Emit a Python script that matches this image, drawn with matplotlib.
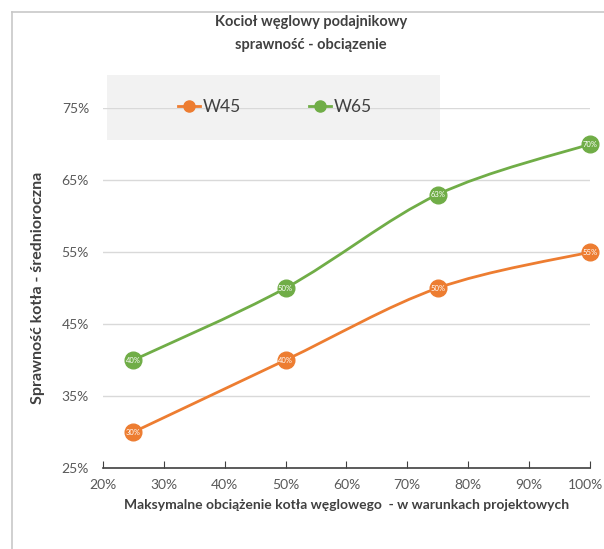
import numpy as np
import matplotlib.pyplot as plt
import matplotlib.transforms as mtransforms
from matplotlib.path import Path
from matplotlib.patches import PathPatch, Rectangle
from matplotlib.lines import Line2D

plt.rcParams['font.family'] = ['Lato', 'DejaVu Sans']

load = [25, 50, 75, 100]
w45 = [30, 40, 50, 55]
w65 = [40, 50, 63, 70]
names = ["W45", "W65"]
colors = ["#ED7D31", "#70AD47"]
xticks = [20, 30, 40, 50, 60, 70, 80, 90, 100]
yticks = [25, 35, 45, 55, 65, 75]


def smooth_path(xs, ys):
    # bezier segments like the smoothed lines in a spreadsheet chart
    p = np.column_stack([xs, ys]).astype(float)
    ext = np.vstack([p[0], p, p[-1]])
    verts = [p[0]]
    codes = [Path.MOVETO]
    for i in range(len(p) - 1):
        a, b, c, d = ext[i], ext[i + 1], ext[i + 2], ext[i + 3]
        verts += [b + (c - a) / 6, c - (d - b) / 6, c]
        codes += [Path.CURVE4] * 3
    return Path(verts, codes)


fig = plt.figure(figsize=(6.04, 5.49), dpi=100)
ax = fig.add_axes([0.1705, 0.1475, 0.806, 0.6555])
ax.set_facecolor('none')

# frame lines of the chart area
fig.add_artist(Line2D([12 / 604, 12 / 604], [0, 1 - 12 / 549], color='#C8C8C8', lw=1.2))
fig.add_artist(Line2D([12 / 604, 1], [1 - 12 / 549, 1 - 12 / 549], color='#C8C8C8', lw=1.2))

# legend background
fig.add_artist(Rectangle((107 / 604, 1 - 140 / 549), 333 / 604, 65 / 549,
                         transform=fig.transFigure, facecolor='#F2F2F2',
                         edgecolor='none', zorder=0))

for ys, col in zip([w45, w65], colors):
    ax.add_patch(PathPatch(smooth_path(load, ys), facecolor='none',
                           edgecolor=col, lw=2, zorder=3, clip_on=False))
    ax.plot(load, ys, 'o', color=col, markersize=12, zorder=4, clip_on=False)
    for x, y in zip(load, ys):
        ax.text(x, y, f"{y}%", color='white', fontsize=5.5,
                ha='center', va='center', zorder=5, clip_on=False)

ax.set_xlim(20, 100)
ax.set_ylim(25, 75)
ax.set_xticks(xticks)
ax.set_yticks(yticks)
ax.set_xticklabels([f"{t}%" for t in xticks])
ax.set_yticklabels([f"{t}%" for t in yticks])
ax.tick_params(axis='x', direction='in', length=5, color='#404040',
               labelsize=10, labelcolor='#595959', pad=8)
ax.tick_params(axis='y', length=0, labelsize=10, labelcolor='#595959', pad=10)
ax.grid(axis='y', color='#D9D9D9', lw=1)
for s in ['top', 'right', 'left']:
    ax.spines[s].set_visible(False)
ax.spines['bottom'].set_color('#404040')
ax.spines['bottom'].set_linewidth(1.2)
ax.spines['bottom'].set_zorder(6)

# keep the last x label inside the picture
last = ax.get_xticklabels()[-1]
last.set_transform(last.get_transform() + mtransforms.ScaledTranslation(-4 / 100, 0, fig.dpi_scale_trans))

ax.set_xlabel("Maksymalne obciążenie kotła węglowego  - w warunkach projektowych",
              fontsize=10, fontweight='bold', color='#404040', labelpad=6)
ax.set_ylabel("Sprawność kotła - średnioroczna", fontsize=11.5,
              fontweight='bold', color='#404040', labelpad=12)

fig.text(0.515, 1 - 22 / 549, "Kocioł węglowy podajnikowy", ha='center',
         va='center', fontsize=10.5, fontweight='bold', color='#404040')
fig.text(0.515, 1 - 45 / 549, "sprawność - obciązenie", ha='center',
         va='center', fontsize=10.5, fontweight='bold', color='#404040')

handles = [Line2D([], [], color=c, lw=2, marker='o', markersize=8) for c in colors]
fig.legend(handles, names, loc='center left', bbox_to_anchor=(162 / 604, 1 - 107 / 549),
           ncol=2, frameon=False, fontsize=12.5, handlelength=1.3, handletextpad=0.15,
           columnspacing=3.9, labelcolor='#404040')

fig.savefig('out.png', dpi=100)
